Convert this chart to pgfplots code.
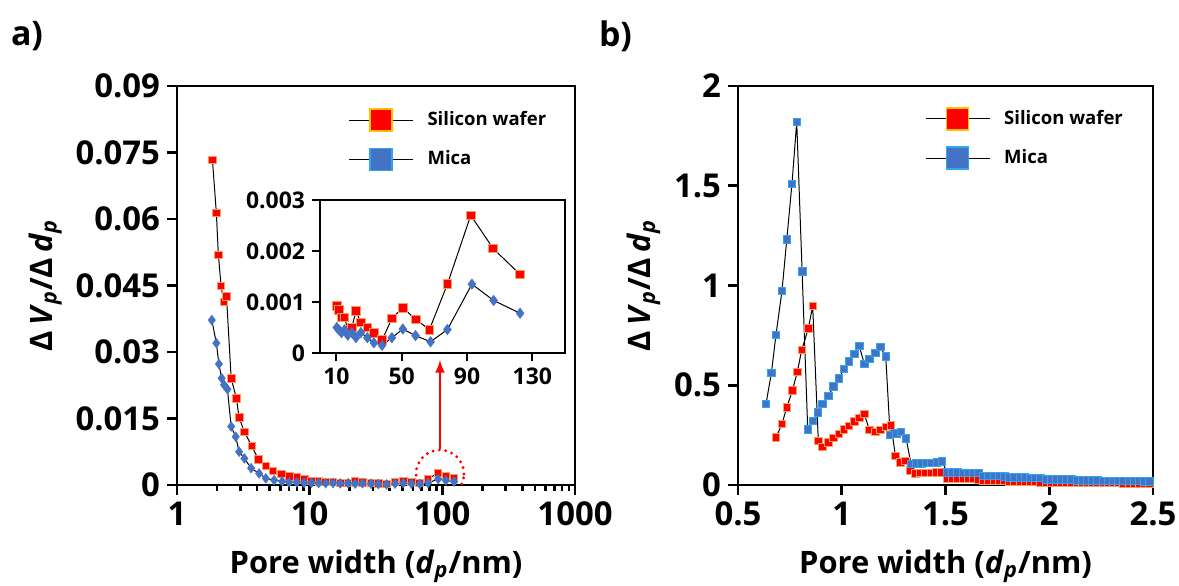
\documentclass[border=0pt]{standalone}
\usepackage{pgfplots}
\pgfplotsset{compat=1.18}
\usepackage{pgfplotstable}
\usepackage{fontspec}
\setmainfont{Open Sans}

\definecolor{xred}{HTML}{FF0000}
\definecolor{xredline}{HTML}{F8A060}
\definecolor{xblue}{HTML}{4472C4}
\definecolor{xcyan}{HTML}{2EA6F0}
\definecolor{xgold}{HTML}{FFC000}

% left panel, log x
\pgfplotstableread{
x y
1.85 0.0733
1.98 0.0614
2.05 0.0519
2.15 0.0449
2.25 0.0413
2.36 0.0426
2.56 0.0241
2.80 0.0196
2.94 0.0152
3.22 0.0120
3.66 0.0088
4.11 0.0058
4.67 0.0043
5.30 0.0032
6.10 0.0025
7.0 0.0020
8.0 0.0017
9.1 0.0014
10.3 0.00093
11.7 0.00085
13.2 0.0007
15 0.0007
17 0.00045
19.5 0.0005
22 0.00082
25 0.0006
29 0.0005
33 0.0004
38 0.00025
44 0.00068
50.7 0.00089
58.5 0.00066
67 0.00046
78 0.00135
92.3 0.0027
106 0.00205
122.5 0.00154
}\siA
\pgfplotstableread{
x y
1.83 0.0372
1.98 0.0320
2.07 0.0273
2.17 0.0241
2.26 0.0226
2.40 0.0216
2.56 0.0132
2.77 0.0109
2.94 0.0075
3.22 0.0060
3.62 0.0038
4.16 0.0026
4.67 0.0015
5.4 0.0011
6.2 0.0008
7.0 0.0006
8.0 0.0006
9.1 0.0005
10.3 0.0005
11.7 0.00045
13.2 0.0004
15 0.00045
17 0.00035
19.5 0.0004
22 0.0003
25 0.0004
29 0.0003
33 0.0002
38 0.00015
44 0.0003
50.7 0.00047
58.5 0.00034
67.7 0.00022
78 0.00046
93 0.00135
106.3 0.00103
122.5 0.00078
}\miA

% right panel
\pgfplotstableread{
x y
0.683 0.239
0.712 0.306
0.735 0.389
0.762 0.473
0.786 0.568
0.807 0.677
0.839 0.785
0.860 0.897
0.887 0.222
0.908 0.192
0.936 0.214
0.960 0.237
0.986 0.257
1.011 0.279
1.034 0.297
1.060 0.319
1.085 0.337
1.109 0.356
1.133 0.276
1.161 0.267
1.185 0.276
1.212 0.292
1.237 0.300
1.259 0.145
1.283 0.114
1.307 0.120
1.330 0.074
1.354 0.058
1.379 0.060
1.404 0.060
1.429 0.061
1.454 0.062
1.479 0.064
1.508 0.030
1.533 0.030
1.558 0.030
1.583 0.030
1.608 0.030
1.633 0.030
1.658 0.029
1.683 0.020
1.708 0.020
1.733 0.020
1.758 0.020
1.783 0.020
1.808 0.015
1.833 0.015
1.858 0.015
1.883 0.015
1.908 0.015
1.933 0.015
1.958 0.014
1.983 0.012
2.008 0.012
2.033 0.012
2.058 0.012
2.083 0.012
2.108 0.012
2.133 0.010
2.158 0.010
2.183 0.010
2.208 0.010
2.233 0.010
2.258 0.010
2.283 0.010
2.308 0.010
2.333 0.010
2.358 0.009
2.383 0.009
2.408 0.009
2.433 0.009
2.458 0.009
2.483 0.009
}\siB
\pgfplotstableread{
x y
0.635 0.406
0.661 0.563
0.683 0.752
0.712 0.974
0.735 1.23
0.760 1.51
0.783 1.82
0.809 1.07
0.836 0.279
0.860 0.322
0.886 0.363
0.908 0.406
0.936 0.446
0.960 0.493
0.986 0.535
1.011 0.581
1.034 0.620
1.061 0.657
1.084 0.698
1.109 0.606
1.133 0.632
1.161 0.663
1.185 0.692
1.212 0.645
1.233 0.251
1.262 0.259
1.286 0.267
1.310 0.234
1.334 0.105
1.358 0.108
1.383 0.109
1.408 0.110
1.433 0.111
1.458 0.113
1.483 0.118
1.508 0.062
1.533 0.062
1.558 0.062
1.583 0.061
1.608 0.061
1.633 0.060
1.658 0.060
1.683 0.045
1.708 0.045
1.733 0.045
1.758 0.045
1.783 0.044
1.808 0.037
1.833 0.037
1.858 0.037
1.883 0.037
1.908 0.036
1.933 0.036
1.958 0.036
1.983 0.029
2.008 0.029
2.033 0.029
2.058 0.029
2.083 0.029
2.108 0.028
2.133 0.022
2.158 0.022
2.183 0.022
2.208 0.022
2.233 0.022
2.258 0.021
2.283 0.021
2.308 0.021
2.333 0.021
2.358 0.020
2.383 0.020
2.408 0.020
2.433 0.020
2.458 0.019
2.483 0.019
}\miB

\pgfplotsset{
  panel/.style={
    scale only axis,
    axis line style={line width=1.3pt},
    tick style={line width=1.3pt, black},
    tick align=outside,
    major tick length=5bp,
    tick pos=left,
    scaled ticks=false,
    /pgf/number format/assume math mode=true,
    tick label style={font=\bfseries\fontsize{16.5}{16.5}\selectfont},
    label style={font=\bfseries\fontsize{15.5}{15.5}\selectfont},
    xlabel style={yshift=-5bp},
    legend style={draw=none, fill=none, font=\bfseries\fontsize{9.3}{9.3}\selectfont,
      row sep=7bp, inner sep=0pt,
      nodes={inner sep=2bp, anchor=west}},
    legend cell align=left,
  },
  ser/.style={black, line width=0.5pt},
  redleg/.style={legend image code/.code={
    \draw[black, line width=0.5pt] (0bp,0bp) -- (32bp,0bp);
    \draw[fill=xred, draw=xgold, line width=0.7pt] (10.5bp,-5.5bp) rectangle (21.5bp,5.5bp);
    \path (37bp,0bp);}},
  blueleg/.style={legend image code/.code={
    \draw[black, line width=0.5pt] (0bp,0bp) -- (32bp,0bp);
    \draw[fill=xblue, draw=xcyan, line width=0.7pt] (10.5bp,-5.5bp) rectangle (21.5bp,5.5bp);
    \path (37bp,0bp);}},
}

\begin{document}
\begin{tikzpicture}
\useasboundingbox (0,0) rectangle (589.5bp,-293bp);

\node[anchor=north west, font=\bfseries\fontsize{17}{17}\selectfont] at (2bp,-7bp) {a)};
\node[anchor=north west, font=\bfseries\fontsize{17}{17}\selectfont] at (296bp,-7bp) {b)};

% a) main
\begin{axis}[panel,
  at={(88.5bp,-242.5bp)}, anchor=south west,
  width=199bp, height=199.5bp,
  xmode=log, xmin=1, xmax=1000,
  xtick={1,10,100,1000}, xticklabels={1,10,100,1000},
  minor xtick={},
  ymin=0, ymax=0.09,
  ytick={0,0.015,0.03,0.045,0.06,0.075,0.09},
  yticklabels={0,0.015,0.03,0.045,0.06,0.075,0.09},
  xlabel={Pore width (\textit{d}\textsubscript{\textit{p}}/nm)},
  ylabel={Δ\,\textit{V}\textsubscript{\textit{p}}/Δ\,\textit{d}\textsubscript{\textit{p}}},
  legend style={at={(0.43,0.947)}, anchor=north west},
]
\addplot[ser, redleg, mark=square*, mark size=1.9pt,
  mark options={fill=xred, draw=xredline, line width=0.4pt}]
  table {\siA};
\addlegendentry{Silicon wafer}
\addplot[ser, blueleg, mark=diamond*, mark size=2.4pt,
  mark options={fill=xblue, draw=xblue, line width=0.3pt}]
  table {\miA};
\addlegendentry{Mica}
\draw[xred, line width=1.6pt, line cap=round, dash pattern=on 0pt off 3.2pt]
  (axis cs:96,0.0025) circle[radius=12bp];
\draw[xred, line width=1.2pt, -{latex}]
  ([yshift=12.5bp]axis cs:96,0.0025) -- (axis cs:96,0.0282);
\end{axis}

% a) inset
\begin{axis}[panel,
  at={(160bp,-176.5bp)}, anchor=south west,
  width=122.5bp, height=76.5bp,
  axis background/.style={fill=white},
  axis line style={line width=1.1pt},
  tick style={line width=1.1pt, black},
  major tick length=4bp,
  tick label style={font=\bfseries\fontsize{11.5}{11.5}\selectfont},
  xmin=0, xmax=150, ymin=0, ymax=0.003,
  xtick={10,50,90,130},
  ytick={0,0.001,0.002,0.003},
  yticklabels={0,0.001,0.002,0.003},
  restrict x to domain=9.5:200,
]
\addplot[ser, mark=square*, mark size=2.2pt,
  mark options={fill=xred, draw=xredline, line width=0.4pt}]
  table {\siA};
\addplot[ser, mark=diamond*, mark size=2.6pt,
  mark options={fill=xblue, draw=xblue, line width=0.3pt}]
  table {\miA};
\end{axis}

% b)
\begin{axis}[panel,
  at={(369bp,-242.5bp)}, anchor=south west,
  width=207.5bp, height=199.5bp,
  xmin=0.5, xmax=2.5, ymin=0, ymax=2,
  xtick={0.5,1,1.5,2,2.5},
  xticklabels={0.5,1,1.5,2,2.5},
  ytick={0,0.5,1,1.5,2},
  yticklabels={0,0.5,1,1.5,2},
  xlabel={Pore width (\textit{d}\textsubscript{\textit{p}}/nm)},
  ylabel={Δ\,\textit{V}\textsubscript{\textit{p}}/Δ\,\textit{d}\textsubscript{\textit{p}}},
  legend style={at={(0.45,0.95)}, anchor=north west},
]
\addplot[ser, redleg, mark=square*, mark size=1.9pt,
  mark options={fill=xred, draw=xredline, line width=0.4pt}]
  table {\siB};
\addlegendentry{Silicon wafer}
\addplot[ser, blueleg, mark=square*, mark size=1.9pt,
  mark options={fill=xblue, draw=xcyan, line width=0.4pt}]
  table {\miB};
\addlegendentry{Mica}
\end{axis}
\end{tikzpicture}
\end{document}
